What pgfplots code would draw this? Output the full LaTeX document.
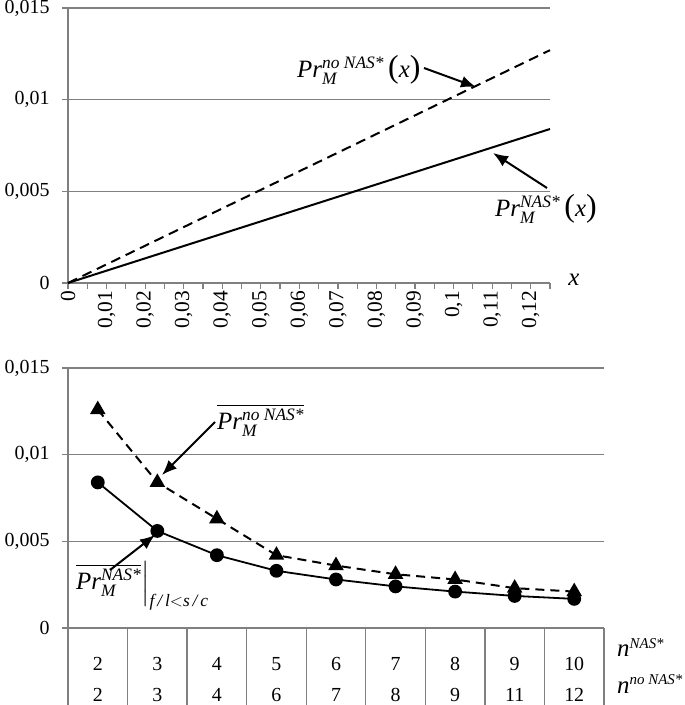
\documentclass[border=0pt]{standalone}
\usepackage{fontspec}
\setmainfont{Liberation Serif}
\usepackage{amsmath}
\usepackage{pgfplots}
\pgfplotsset{compat=1.18}
\usetikzlibrary{arrows.meta}
\definecolor{gr}{RGB}{128,128,128}
\newcommand{\lbl}{\fontsize{25}{27}\selectfont}
\newcommand{\tck}{\fontsize{20}{22}\selectfont}
\newcommand{\tckx}{\fontsize{21.5}{22}\selectfont}
\newcommand{\tckt}{\fontsize{20}{24}\selectfont}
\newcommand{\ti}[1]{\text{\itshape #1}}
\newcommand{\spt}[1]{\text{\fontsize{15}{15}\selectfont\itshape #1}}
\newcommand{\spl}[1]{\text{\fontsize{17.5}{17.5}\selectfont\itshape #1}}
\newcommand{\lp}{\text{\fontsize{32}{32}\selectfont(}}
\newcommand{\rp}{\text{\fontsize{32}{32}\selectfont)}}

\begin{document}
\begin{tikzpicture}
\useasboundingbox (0,0) rectangle (685bp,705bp);

% ---------- top panel ----------
\begin{axis}[
  at={(68bp,422bp)}, anchor=south west,
  scale only axis, width=482bp, height=275bp,
  xmin=0, xmax=0.125, ymin=0, ymax=0.015,
  axis x line=bottom, axis y line=left,
  axis line style={gr, line width=1.4pt, -},
  ymajorgrids, grid style={gr, line width=1.4pt},
  xtick={0,0.005,0.01,0.015,0.02,0.025,0.03,0.035,0.04,0.045,0.05,0.055,0.06,0.065,0.07,0.075,0.08,0.085,0.09,0.095,0.1,0.105,0.11,0.115,0.12,0.125},
  xticklabels={0,{},{0,01},{},{0,02},{},{0,03},{},{0,04},{},{0,05},{},{0,06},{},{0,07},{},{0,08},{},{0,09},{},{0,1},{},{0,11},{},{0,12},{}},
  ytick={0,0.005,0.01,0.015},
  yticklabels={0,{0,005},{0,01},{0,015}},
  scaled ticks=false,
  tick align=outside, major tick length=6bp,
  tick style={gr, line width=1.2pt},
  xticklabel style={rotate=90, anchor=east, font=\tckx, inner sep=2bp},
  yticklabel style={font=\tck, xshift=-9bp},
  clip=false,
]
\addplot[black, line width=2bp, dash pattern=on 10bp off 6bp] coordinates {(0,0) (0.125,0.0127)};
\addplot[black, line width=2bp] coordinates {(0,0) (0.125,0.0084)};
\end{axis}

% ---------- bottom panel ----------
\begin{axis}[
  at={(68bp,77bp)}, anchor=south west,
  scale only axis, width=536bp, height=260bp,
  xmin=0.5, xmax=9.5, ymin=0, ymax=0.015,
  axis x line=bottom, axis y line=left,
  axis line style={gr, line width=1.4pt, -},
  ymajorgrids, grid style={gr, line width=1.4pt},
  xtick={1,2,3,4,5,6,7,8,9},
  xticklabels={{2\\[7bp]2},{3\\[7bp]3},{4\\[7bp]4},{5\\[7bp]6},{6\\[7bp]7},{7\\[7bp]8},{8\\[7bp]9},{9\\[7bp]11},{10\\[7bp]12}},
  minor xtick={0.5,1.5,2.5,3.5,4.5,5.5,6.5,7.5,8.5,9.5},
  ytick={0,0.005,0.01,0.015},
  yticklabels={0,{0,005},{0,01},{0,015}},
  scaled ticks=false,
  tick align=outside, major tick length=6bp, minor tick length=77bp,
  tick style={gr, line width=1.2pt},
  major x tick style={draw=none},
  minor x tick style={gr, line width=1.4pt},
  xticklabel style={align=center, font=\tckt, anchor=north, yshift=-20bp},
  yticklabel style={font=\tck, xshift=-9bp},
  clip=false,
]
\addplot[black, line width=2bp, dash pattern=on 9bp off 6bp, mark=triangle*, mark size=7bp, mark options={solid}]
  coordinates {(1,0.0126) (2,0.0084) (3,0.0063) (4,0.0042) (5,0.0036) (6,0.0031) (7,0.0028) (8,0.0023) (9,0.0021)};
\addplot[black, line width=1.8bp, mark=*, mark size=6bp]
  coordinates {(1,0.0084) (2,0.0056) (3,0.0042) (4,0.0033) (5,0.0028) (6,0.0024) (7,0.0021) (8,0.00185) (9,0.00168)};
\end{axis}

% ---------- annotations ----------
\node[anchor=base west, inner sep=0, font=\lbl] at (297bp,627bp) {$\ti{Pr}_{\ti{M}}^{\spl{no NAS*}}\mkern3mu\lp\ti{x}\rp$};
\draw[line width=2bp, -{Latex[length=15bp,width=12bp]}] (424bp,637bp) -- (476bp,618bp);
\node[anchor=base west, inner sep=0, font=\lbl] at (495bp,488bp) {$\ti{Pr}_{\ti{M}}^{\spl{NAS*}}\mkern3mu\lp\ti{x}\rp$};
\draw[line width=2bp, -{Latex[length=15bp,width=12bp]}] (547bp,517bp) -- (493bp,552bp);
\node[inner sep=0, font=\lbl] at (574bp,425bp) {\itshape x};

\node[anchor=base west, inner sep=0, font=\lbl] at (217bp,275bp) {$\overline{\ti{Pr}_{\ti{M}}^{\spl{no NAS*}}}$};
\draw[line width=2bp, -{Latex[length=15bp,width=12bp]}] (215bp,283bp) -- (162bp,230bp);
\node[anchor=base west, inner sep=0, font=\lbl] at (76bp,115bp) {$\overline{\ti{Pr}_{\ti{M}}^{\spl{NAS*}}}\Big|_{\ti{f\,/\,l} < \ti{s\,/\,c}}$};
\draw[line width=2bp, -{Latex[length=15bp,width=12bp]}] (110bp,135bp) -- (155bp,170bp);

\node[anchor=base west, inner sep=0, font=\lbl] at (617bp,48bp) {$\ti{n}^{\spt{NAS*}}$};
\node[anchor=base west, inner sep=0, font=\lbl] at (617bp,12bp) {$\ti{n}^{\spt{no NAS*}}$};
\end{tikzpicture}
\end{document}
